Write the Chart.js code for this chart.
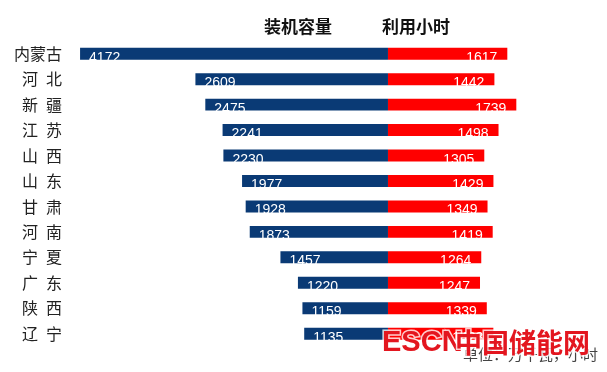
<!DOCTYPE html>
<html>
<head>
<meta charset="utf-8">
<script src="https://cdn.jsdelivr.net/npm/chart.js@4/dist/chart.umd.min.js"></script>
<style>
  html, body { margin: 0; padding: 0; background: #fff; }
  #wrap { width: 607px; height: 372px; position: relative; }
</style>
</head>
<body>
<div id="wrap"><canvas id="canva"></canvas></div>
<script>
var provinces = ["内蒙古", "河\u2002北", "新\u2002疆", "江\u2002苏", "山\u2002西", "山\u2002东", "甘\u2002肃", "河\u2002南", "宁\u2002夏", "广\u2002东", "陕\u2002西", "辽\u2002宁"];
var capacity = [4172, 2609, 2475, 2241, 2230, 1977, 1928, 1873, 1457, 1220, 1159, 1135];
var hours = [1617, 1442, 1739, 1498, 1305, 1429, 1349, 1419, 1264, 1247, 1339, 1428];
var seriesNames = ["装机容量", "利用小时"];
var barColors = ["#0a3a75", "#ff0000"];
var unitText = "单位：万千瓦，小时";

// left side is drawn as negative values
var leftValues = capacity.map(function (v) { return -v; });

var labelPlugin = {
  id: "labels",
  afterDatasetsDraw: function (chart) {
    var ctx = chart.ctx;
    ctx.save();
    ctx.font = "14px 'Liberation Sans', Arial, sans-serif";
    ctx.fillStyle = "#ffffff";
    ctx.textBaseline = "alphabetic";
    chart.getDatasetMeta(0).data.forEach(function (bar, i) {
      ctx.textAlign = "left";
      ctx.fillText(capacity[i], bar.x + 9, bar.y + 8);
    });
    chart.getDatasetMeta(1).data.forEach(function (bar, i) {
      ctx.textAlign = "right";
      ctx.fillText(hours[i], bar.x - 10, bar.y + 8);
    });
    ctx.restore();
  },
  afterDraw: function (chart) {
    var ctx = chart.ctx;
    var zero = chart.scales.x.getPixelForValue(0);
    ctx.save();
    ctx.fillStyle = "#111";
    ctx.font = "bold 17px 'Noto Sans CJK SC', sans-serif";
    ctx.textAlign = "center";
    ctx.textBaseline = "middle";
    ctx.fillText(seriesNames[0], zero - 90, 27);
    ctx.fillText(seriesNames[1], zero + 28, 27);

    ctx.font = "15px 'Noto Sans CJK SC', sans-serif";
    ctx.fillStyle = "#444";
    ctx.textAlign = "right";
    ctx.fillText(unitText, 598, 354);

    // site watermark
    ctx.textAlign = "left";
    ctx.font = "bold 29px 'Liberation Sans Narrow', 'Liberation Sans', sans-serif";
    ctx.lineWidth = 3;
    ctx.strokeStyle = "rgba(255,255,255,0.8)";
    ctx.fillStyle = "#e3161f";
    ctx.strokeText("ESCN", 382, 343);
    ctx.fillText("ESCN", 382, 343);
    ctx.font = "bold 27px 'Noto Sans CJK SC', sans-serif";
    ctx.strokeText("中国储能网", 455, 343);
    ctx.fillText("中国储能网", 455, 343);
    ctx.restore();
  }
};

var ctx = document.getElementById("canva").getContext("2d");
new Chart(ctx, {
  type: "bar",
  data: {
    labels: provinces,
    datasets: [{
      label: seriesNames[0],
      data: leftValues,
      backgroundColor: barColors[0],
      categoryPercentage: 1,
      barPercentage: 0.47
    }, {
      label: seriesNames[1],
      data: hours,
      backgroundColor: barColors[1],
      categoryPercentage: 1,
      barPercentage: 0.47
    }]
  },
  options: {
    indexAxis: "y",
    responsive: true,
    maintainAspectRatio: false,
    animation: false,
    layout: { padding: { top: 41, bottom: 24, right: 5, left: 0 } },
    plugins: {
      legend: { display: false },
      title: { display: false },
      tooltip: { enabled: false }
    },
    scales: {
      x: {
        stacked: true,
        display: false,
        min: -4200,
        max: 2900
      },
      y: {
        stacked: true,
        grid: { display: false, drawTicks: false },
        border: { display: false },
        afterFit: function (scale) { scale.width = 78; },
        ticks: {
          padding: 16,
          color: "#222",
          font: { family: "'Noto Sans CJK SC', sans-serif", size: 16 }
        }
      }
    }
  },
  plugins: [labelPlugin]
});
</script>
</body>
</html>
